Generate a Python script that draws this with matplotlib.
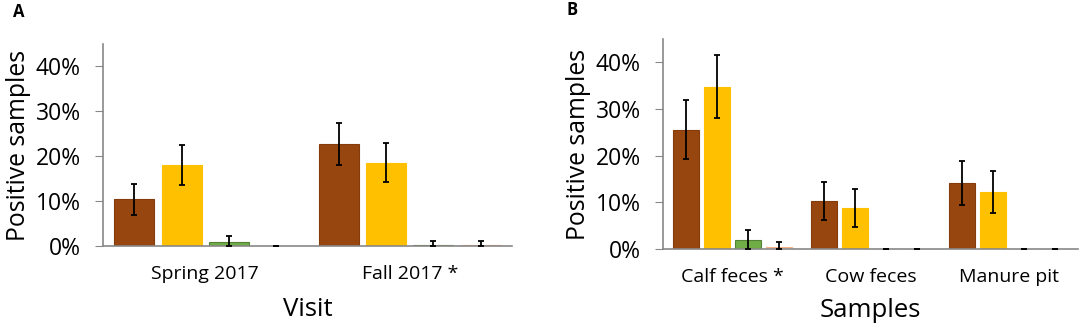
import matplotlib
matplotlib.use('Agg')
import matplotlib.pyplot as plt
import numpy as np
from matplotlib.ticker import PercentFormatter

plt.rcParams['font.family'] = ['Open Sans', 'DejaVu Sans']

# panel A: by visit
visits = ['Spring 2017', 'Fall 2017 *']
a_brown = [10.4, 22.7]
a_yellow = [18.0, 18.6]
a_green = [1.0, 0.3]
a_orange = [0.0, 0.2]
a_brown_err = [3.5, 4.7]
a_yellow_err = [4.4, 4.4]
a_green_err = [1.2, 0.9]
a_orange_err = [0.0, 1.0]

# panel B: by sample type
samples = ['Calf feces *', 'Cow feces', 'Manure pit']
b_brown = [25.6, 10.3, 14.1]
b_yellow = [34.8, 8.8, 12.2]
b_green = [2.0, 0.0, 0.0]
b_orange = [0.5, 0.0, 0.0]
b_brown_err = [6.4, 4.1, 4.7]
b_yellow_err = [6.7, 4.0, 4.5]
b_green_err = [2.0, 0.0, 0.0]
b_orange_err = [1.1, 0.0, 0.0]

colors = ['#984610', '#FFC000', '#70AD47', '#FBE5D6']
edges = ['#843C0C', '#FFC000', '#548235', '#F4B183']

fig = plt.figure(figsize=(10.84, 3.28), dpi=100)
axA = fig.add_axes([103 / 1084, 1 - 246 / 328, 409 / 1084, 202 / 328])
axB = fig.add_axes([663 / 1084, 1 - 249 / 328, 415 / 1084, 210 / 328])


def draw(ax, cats, vals, errs, width, xlabel, ylab_x, xlab_y):
    x = np.arange(len(cats))
    step = width * 1.18
    for i, (v, e) in enumerate(zip(vals, errs)):
        pos = x + (i - 1.5) * step
        v = np.array(v)
        e = np.array(e)
        low = np.minimum(e, v)
        ax.bar(pos, v, width, color=colors[i], edgecolor=edges[i], linewidth=0.8, zorder=2)
        ax.errorbar(pos, v, yerr=[low, e], fmt='none', ecolor='black',
                    elinewidth=1.3, capsize=2, capthick=1.3, zorder=3)
    ax.set_xlim(-0.5, len(cats) - 0.5)
    ax.set_ylim(0, 45)
    ax.set_yticks([0, 10, 20, 30, 40])
    ax.yaxis.set_major_formatter(PercentFormatter(decimals=0))
    ax.set_xticks(x)
    ax.set_xticklabels(cats, fontsize=14)
    ax.tick_params(axis='x', length=0, pad=14)
    ax.tick_params(axis='y', direction='out', length=6, color='#888888', labelsize=16.5, pad=10)
    for s in ['top', 'right']:
        ax.spines[s].set_visible(False)
    for s in ['left', 'bottom']:
        ax.spines[s].set_color('#888888')
        ax.spines[s].set_linewidth(1.2)
    ax.set_xlabel(xlabel, fontsize=18.5)
    ax.set_ylabel('Positive samples', fontsize=17.8)
    ax.yaxis.set_label_coords(ylab_x, 0.5)
    ax.xaxis.set_label_coords(0.5, xlab_y)


draw(axA, visits, [a_brown, a_yellow, a_green, a_orange],
     [a_brown_err, a_yellow_err, a_green_err, a_orange_err], 0.196, 'Visit', -0.176, -0.25)
draw(axB, samples, [b_brown, b_yellow, b_green, b_orange],
     [b_brown_err, b_yellow_err, b_green_err, b_orange_err], 0.19, 'Samples', -0.173, -0.235)

fig.text(13 / 1084, 1 - 12 / 328, 'A', fontsize=12, fontweight='bold', va='center')
fig.text(567 / 1084, 1 - 10 / 328, 'B', fontsize=12, fontweight='bold', va='center')

fig.savefig('out.png', dpi=100)
